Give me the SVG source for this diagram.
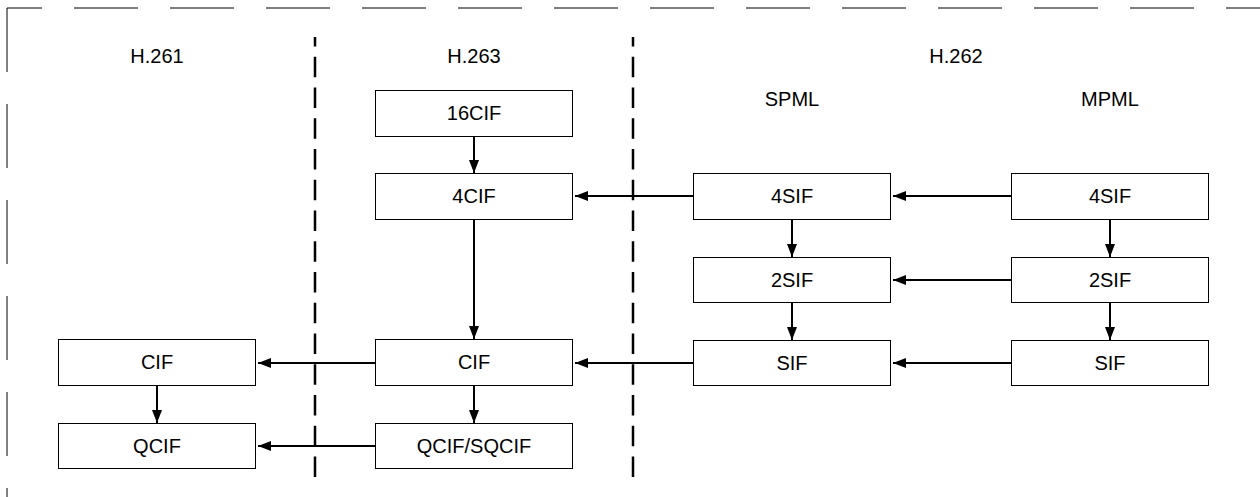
<svg xmlns="http://www.w3.org/2000/svg" width="1260" height="497" viewBox="0 0 1260 497">
<defs>
<style>
.box{fill:#fff;stroke:#000;stroke-width:1}
.t{font-family:"Liberation Sans",Arial,sans-serif;font-size:20px;fill:#000;text-anchor:middle}
.c{stroke:#000;stroke-width:2;fill:none;marker-end:url(#ah)}
.sep{stroke:#000;stroke-width:2.5;stroke-dasharray:20.5 10.25;fill:none}
.frame{stroke:#000;stroke-width:1;stroke-dasharray:64 32;fill:none}
</style>
<marker id="ah" markerWidth="13" markerHeight="10" refX="13" refY="5" orient="auto" markerUnits="userSpaceOnUse">
<path d="M0,0 L13,5 L0,10 Z" fill="#000"/>
</marker>
</defs>
<rect width="1260" height="497" fill="#fff"/>
<g id="frame">
<line class="frame" x1="7" y1="8" x2="1260" y2="8" stroke-dashoffset="29"/>
<line class="frame" x1="7" y1="8" x2="7" y2="497"/>
</g>
<g id="separators">
<line class="sep" x1="315" y1="477" x2="315" y2="37"/>
<line class="sep" x1="633" y1="477" x2="633" y2="37"/>
</g>
<g id="labels">
<text class="t" x="157" y="63">H.261</text>
<text class="t" x="474" y="63">H.263</text>
<text class="t" x="956" y="63">H.262</text>
<text class="t" x="792" y="106">SPML</text>
<text class="t" x="1110" y="106">MPML</text>
</g>
<g id="connectors">
<line class="c" x1="474" y1="137" x2="474" y2="173"/>
<line class="c" x1="474" y1="219" x2="474" y2="339"/>
<line class="c" x1="474" y1="385" x2="474" y2="423"/>
<line class="c" x1="157" y1="385" x2="157" y2="423"/>
<line class="c" x1="792" y1="219" x2="792" y2="257"/>
<line class="c" x1="792" y1="302" x2="792" y2="340"/>
<line class="c" x1="1110" y1="219" x2="1110" y2="257"/>
<line class="c" x1="1110" y1="302" x2="1110" y2="340"/>
<line class="c" x1="693" y1="196" x2="575" y2="196"/>
<line class="c" x1="1011" y1="196" x2="893" y2="196"/>
<line class="c" x1="1011" y1="280" x2="893" y2="280"/>
<line class="c" x1="1011" y1="363" x2="893" y2="363"/>
<line class="c" x1="693" y1="363" x2="575" y2="363"/>
<line class="c" x1="375" y1="363" x2="258" y2="363"/>
<line class="c" x1="375" y1="446" x2="258" y2="446"/>
</g>
<g id="n16cif"><rect class="box" x="375.5" y="90.5" width="197" height="46"/><text class="t" x="474" y="120">16CIF</text></g>
<g id="n4cif"><rect class="box" x="375.5" y="173.5" width="197" height="46"/><text class="t" x="474" y="203">4CIF</text></g>
<g id="ncif263"><rect class="box" x="375.5" y="339.5" width="197" height="46"/><text class="t" x="474" y="369">CIF</text></g>
<g id="nqcif263"><rect class="box" x="375.5" y="423.5" width="197" height="45"/><text class="t" x="474" y="453">QCIF/SQCIF</text></g>
<g id="ncif261"><rect class="box" x="58.5" y="339.5" width="197" height="46"/><text class="t" x="157" y="369">CIF</text></g>
<g id="nqcif261"><rect class="box" x="58.5" y="423.5" width="197" height="45"/><text class="t" x="157" y="453">QCIF</text></g>
<g id="n4sif_sp"><rect class="box" x="693.5" y="173.5" width="197" height="46"/><text class="t" x="792" y="203">4SIF</text></g>
<g id="n2sif_sp"><rect class="box" x="693.5" y="257.5" width="197" height="45"/><text class="t" x="792" y="287">2SIF</text></g>
<g id="nsif_sp"><rect class="box" x="693.5" y="340.5" width="197" height="45"/><text class="t" x="792" y="370">SIF</text></g>
<g id="n4sif_mp"><rect class="box" x="1011.5" y="173.5" width="197" height="46"/><text class="t" x="1110" y="203">4SIF</text></g>
<g id="n2sif_mp"><rect class="box" x="1011.5" y="257.5" width="197" height="45"/><text class="t" x="1110" y="287">2SIF</text></g>
<g id="nsif_mp"><rect class="box" x="1011.5" y="340.5" width="197" height="45"/><text class="t" x="1110" y="370">SIF</text></g>
</svg>
